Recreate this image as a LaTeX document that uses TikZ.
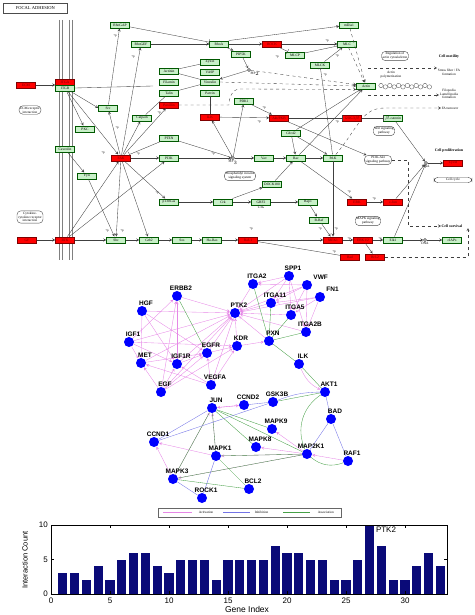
\documentclass[tikz,border=0pt]{standalone}
\usepackage{fontspec}
\setsansfont{Liberation Sans}
\newfontfamily\kegg{Liberation Serif}
\usetikzlibrary{shapes,arrows,positioning,backgrounds}
\definecolor{actc}{RGB}{230,135,230}
\definecolor{inhc}{RGB}{115,115,230}
\definecolor{assc}{RGB}{70,160,70}
\definecolor{boxg}{RGB}{200,240,200}
\definecolor{barc}{RGB}{10,10,120}
\tikzstyle{gene} = [draw=green!35!black, fill=boxg, minimum width=19pt, minimum height=6.5pt, inner sep=0pt, font=\kegg\fontsize{3.6}{4}\selectfont]
\tikzstyle{hit} = [gene, draw=red!50!black, fill=red, text=red!45!black]
\tikzstyle{pway} = [draw=black!70, rounded corners=4pt, align=center, inner sep=1.2pt, font=\kegg\fontsize{3.4}{3.8}\selectfont]
\tikzstyle{mol} = [circle, draw=black!80, inner sep=0pt, minimum size=3pt]
\tikzstyle{txt} = [font=\kegg\fontsize{3.4}{3.8}\selectfont, inner sep=0.5pt, align=center]
\tikzstyle{btxt} = [txt, font=\kegg\bfseries\fontsize{3.8}{4.2}\selectfont]
\tikzstyle{pp} = [font=\kegg\fontsize{3.2}{3.5}\selectfont, inner sep=0.3pt]
\tikzstyle{ln} = [draw=black!75, line width=0.35pt, >=stealth]
\tikzstyle{prot} = [circle, fill=blue, minimum size=10pt, inner sep=0pt]
\tikzstyle{plbl} = [font=\sffamily\bfseries\fontsize{6.5}{7}\selectfont, inner sep=0.5pt, xshift=4pt]
\tikzstyle{act} = [draw=actc, line width=0.35pt, ->, >=stealth]
\tikzstyle{inh} = [draw=inhc, line width=0.35pt]
\tikzstyle{ass} = [draw=assc, line width=0.35pt]
\tikzstyle{tick} = [font=\sffamily\fontsize{8}{9}\selectfont, inner sep=1pt]

\begin{document}
\begin{tikzpicture}[x=1pt, y=-1pt]
\useasboundingbox (0,0) rectangle (474,615);

% focal adhesion map
\node[draw=black!70, line width=0.8pt, minimum width=64pt, minimum height=10pt, anchor=north west,
      font=\kegg\fontsize{4.5}{5}\selectfont] (title) at (3,3) {FOCAL ADHESION};
\foreach \x in {59,62,69,72}
    \draw[gray, line width=0.6pt] (\x,20) -- (\x,260);

\node[hit] (ecm) at (26,85) {ECM};
\node[hit] (itga) at (65,82) {ITGA};
\node[gene] (itgb) at (65,88) {ITGB};
\node[gene] (rhogap) at (120,25) {RhoGAP};
\node[gene] (rhogef) at (141,44) {RhoGEF};
\node[gene] (rhoa) at (219,44) {RhoA};
\node[hit] (rock) at (272,44) {ROCK};
\node[gene] (mdia) at (349,25) {mDia1};
\node[gene] (mlc) at (347,44) {MLC};
\node[gene] (mlcp) at (295,55) {MLCP};
\node[gene] (mlck) at (320,65) {MLCK};
\node[gene] (pip5k) at (241,54) {PIP5K};
\node[mol, label={[txt]-60:PIP$_2$}] (pip2) at (249,70) {};
\node[gene] (zyxin) at (210,62) {Zyxin};
\node[gene] (vasp) at (210,72) {VASP};
\node[gene] (vinculin) at (210,82) {Vinculin};
\node[gene] (actinin) at (169,71) {Actinin};
\node[gene] (filamin) at (169,82) {Filamin};
\node[gene] (talin) at (169,93) {Talin};
\node[gene] (parvin) at (210,93) {Parvin};
\node[hit] (paxillin) at (169,105) {Paxillin};
\node[hit] (ilk) at (210,117) {ILK};
\node[gene] (src) at (108,108) {Src};
\node[gene] (pkc) at (85,129) {PKC};
\node[gene] (calpain) at (142,118) {Calpain};
\node[gene] (pten) at (169,138) {PTEN};
\node[gene] (caveolin) at (65,149) {Caveolin};
\node[hit] (fak) at (121,158) {FAK};
\node[gene] (pi3k) at (169,158) {PI3K};
\node[gene] (fyn) at (87,176) {Fyn};
\node[gene] (p130) at (169,202) {p130Cas};
\node[gene] (crk) at (223,202) {Crk};
\node[gene] (grf2) at (261,202) {GRF2};
\node[txt, below=0.5pt of grf2] (c3g) {C3G};
\node[gene] (rap1) at (308,202) {Rap1};
\node[gene] (braf) at (319,220) {B-Raf};
\node[hit] (erk) at (357,202) {ERK};
\node[hit] (cjun) at (393,202) {c-Jun};
\node[hit] (gf) at (27,240) {GF};
\node[hit] (rtk) at (65,240) {RTK};
\node[gene] (shc) at (116,240) {Shc};
\node[gene] (grb2) at (149,240) {Grb2};
\node[gene] (sos) at (182,240) {Sos};
\node[gene] (hras) at (212,240) {Ha-Ras};
\node[hit] (raf1) at (248,240) {Raf-1};
\node[hit] (mek1) at (333,240) {MEK1};
\node[hit] (erk12) at (363,240) {ERK1/2};
\node[gene] (elk1) at (393,240) {Elk1};
\node[mol, label={[txt]below:DNA}] (dna2) at (425,240) {};
\node[gene] (ciaps) at (452,240) {cIAPs};
\node[hit] (bad) at (350,257) {Bad};
\node[hit] (bcl2) at (375,257) {Bcl-2};
\node[mol, label={[txt]below:PIP$_3$}] (pip3) at (233,158) {};
\node[gene] (pdk1) at (244,101) {PDK1};
\node[hit] (akt) at (279,118) {Akt/PKB};
\node[hit] (gsk) at (352,118) {GSK-3$\beta$};
\node[gene] (bcat) at (393,118) {$\beta$-catenin};
\node[gene] (cdc42) at (291,133) {Cdc42};
\node[gene] (vav) at (264,158) {Vav};
\node[gene] (rac) at (296,158) {Rac};
\node[gene] (pak) at (333,158) {PAK};
\node[gene] (dock) at (272,184) {DOCK180};
\node[gene] (actin) at (366,86) {Actin};
\node[hit] (cycd) at (453,163) {CycD};
\node[mol, label={[txt]below:DNA}] (dna1) at (426,163) {};

\node[pway] (ecmbox) at (30,110) {ECM-receptor\\interaction};
\node[pway] (cytobox) at (30,217) {Cytokine-\\cytokine receptor\\interaction};
\node[pway] (regbox) at (395,56) {Regulation of\\actin cytoskeleton};
\node[pway] (wntbox) at (384,131) {Wnt signaling\\pathway};
\node[pway] (pibox) at (240,176) {Phosphatidyl inositol\\signaling system};
\node[pway] (pi3kbox) at (378,160) {PI3K-Akt\\signaling pathway};
\node[pway] (mapkbox) at (368,221) {MAPK signaling\\pathway};
\node[pway, minimum width=38pt] (cyclebox) at (453,180) {Cell cycle};

\node[btxt] (motil) at (449,57) {Cell motility};
\node[txt] (stress) at (449,72) {Stress fiber / FA\\formation};
\node[txt] (filo) at (449,94) {Filopodia\\Lamellipodia\\formation};
\node[txt] (fat) at (450,108) {FA turnover};
\node[btxt] (prolif) at (449,151) {Cell proliferation};
\node[btxt] (surv) at (452,226) {Cell survival};
\node[txt] (actpol) at (391,75) {Actin\\polymerization};
\foreach \i in {0,...,11}
    \draw[black!70, line width=0.3pt] ({381+4.4*\i},{85.5+1.4*mod(\i,2)}) circle (2.2pt);

\foreach \x/\y [count=\k] in {115/36, 133/57, 117/128, 159/113, 327/41, 277/57, 337/56,
        325/75, 264/108, 259/122, 337/122, 103/153, 138/154, 213/154, 157/193, 107/231,
        122/231, 349/192, 374/199, 251/229, 320/229, 336/229, 349/239, 380/239, 334/252}
    \node[pp] (p\k) at (\x,\y) {+p};

\coordinate (m1) at (153,86);
\coordinate (m2) at (229,105);
\coordinate (m3) at (240,89);
\coordinate (d1) at (368,68);
\coordinate (d2) at (368,95);
\coordinate (d3) at (385,108);
\coordinate (s1) at (468,257);
\coordinate (s2) at (408,160);

\draw[ln,->] (ecm) -- (ecm -| itga.west);
\draw[ln] (itgb.east) -- (m1);
\draw[ln,->] (itgb) -- (src.west);
\draw[ln,->] (itgb) -- (fak);
\draw[ln,->] (itgb) -- (pkc);
\draw[ln,->] (caveolin) -- (fyn);
\draw[ln,->] (fyn) -- (shc);
\draw[ln,->] (gf) -- (rtk);
\draw[ln,->] (rtk) -- (shc);
\draw[ln,->] (rtk) -- (fak);
\draw[ln,->] (rtk) -- (pi3k);
\draw[ln,->] (shc) -- (grb2);
\draw[ln,->] (grb2) -- (sos);
\draw[ln,->] (sos) -- (hras);
\draw[ln,->] (hras) -- (raf1);
\draw[ln,->] (raf1) -- (mek1);
\draw[ln,->] (mek1) -- (erk12);
\draw[ln,->] (erk12) -- (elk1);
\draw[ln,->] (elk1) -- (dna2);
\draw[ln,->] (dna2) -- (ciaps);
\draw[ln,->] (fak) -- (shc);
\draw[ln,->] (fak) -- (grb2);
\draw[ln,->] (fak) -- (p130);
\draw[ln,->] (fak) -- (pi3k);
\draw[ln,->] (fak) -- (src);
\draw[ln,->] (src) -- (rhogap);
\draw[ln,->] (fak) -- (rhogef);
\draw[ln,->] (fak) -- (calpain);
\draw[ln,->] (fak) -- (paxillin);
\draw[ln] (calpain) -- (talin);
\draw[ln,-|] (pten) -- (fak);
\draw[ln,-|] (pten) -- (pip3);
\draw[ln,->] (pi3k) -- (pip3);
\draw[ln,-|] (rhogap) -- (rhoa);
\draw[ln,->] (rhogef) -- (rhoa);
\draw[ln,->] (rhoa) -- (rock);
\draw[ln,->] (rhoa) -- (pip5k);
\draw[ln,->] (rhoa.north east) -- (mdia);
\draw[ln,->] (rock) -- (mlc);
\draw[ln,-|] (rock) -- (mlcp);
\draw[ln,-|] (mlcp) -- (mlc);
\draw[ln,->] (mlck) -- (mlc);
\draw[ln,dashed,->] (mlc) -- (actin);
\draw[ln,dashed,->] (mdia) -- (actin);
\draw[ln,->] (pip5k) -- (pip2);
\draw[ln,->] (pip2) -- (vinculin);
\draw[ln,dashed,->] (pip2) -- (actin);
\draw[ln] (actinin) -- (zyxin);
\draw[ln] (actinin) -- (vinculin);
\draw[ln] (talin) -- (vinculin);
\draw[ln] (parvin) -- (ilk);
\draw[ln,dashed,->] (vinculin.east) -- (actin.west);
\draw[ln,dashed,->] (paxillin.east) -- (m2) to[out=90,in=180] (m3) -- (actin.south west);
\draw[ln,->] (ilk) -- (akt);
\draw[ln,->] (pdk1) -- (akt);
\draw[ln,->] (pip3) -- (pdk1);
\draw[ln,->] (pip3) -- (ilk);
\draw[ln,->] (pip3) -- (vav);
\draw[ln,->] (vav) -- (rac);
\draw[ln,->] (rac) -- (pak);
\draw[ln,-|] (akt) -- (gsk);
\draw[ln,-|] (gsk) -- (bcat);
\draw[ln,->] (bcat) -- (dna1);
\draw[ln,->] (cjun) -- (dna1);
\draw[ln,->] (elk1) -- (dna1);
\draw[ln,->] (dna1) -- (cycd);
\draw[ln,->] (p130) -- (crk);
\draw[ln,->] (crk) -- (grf2);
\draw[ln,->] (crk) -- (dock);
\draw[ln,->] (dock) -- (rac);
\draw[ln,->] (grf2) -- (rap1);
\draw[ln,->] (rap1) -- (braf);
\draw[ln,->] (braf) -- (mek1);
\draw[ln,->] (pak) -- (mek1);
\draw[ln,->] (rac) -- (erk);
\draw[ln,->] (erk) -- (cjun);
\draw[ln] (raf1) -- (bad);
\draw[ln,->] (erk12) -- (bcl2);
\draw[ln,->] (akt) -- (pi3kbox);
\draw[ln,->] (cdc42) -- (pak);
\draw[ln,->] (cdc42) -- (rac);
\draw[ln,->] (rac) -- (actin);
\draw[ln,->] (cdc42) -- (actin);
\draw[ln,-|] (pak) -- (mlck);
\draw[ln,dashed,->] (d1) -- (d1 -| stress.west);
\draw[ln,dashed,->] (d2) -- (d2 -| filo.west);
\draw[ln,dashed,->] (pak) .. controls (360,125) and (362,108) .. (d3) -- (fat.west);
\draw[ln,dashed,->] (bcl2.east) -- (s1) -- (s1 |- surv.south);
\draw[ln,dashed,->] (pi3kbox.east) -- (s2) -- (s2 |- surv) -- (surv.west);

% interaction network
\node[prot, label={[plbl]above:ERBB2}] (erbb2) at (177,296) {};
\node[prot, label={[plbl]above:HGF}] (hgf) at (142,311) {};
\node[prot, label={[plbl]above:PTK2}] (ptk2) at (235,313) {};
\node[prot, label={[plbl]above:IGF1}] (igf1) at (129,342) {};
\node[prot, label={[plbl]above:KDR}] (kdr) at (237,346) {};
\node[prot, label={[plbl]above:EGFR}] (egfr) at (207,353) {};
\node[prot, label={[plbl]above:MET}] (met) at (141,363) {};
\node[prot, label={[plbl]above:IGF1R}] (igf1r) at (177,364) {};
\node[prot, label={[plbl]above:VEGFA}] (vegfa) at (211,385) {};
\node[prot, label={[plbl]above:EGF}] (egf) at (161,392) {};
\node[prot, label={[plbl]above:JUN}] (jun) at (212,408) {};
\node[prot, label={[plbl]above:CCND2}] (ccnd2) at (244,405) {};
\node[prot, label={[plbl]above:ITGA2}] (itga2) at (253,284) {};
\node[prot, label={[plbl]above:SPP1}] (spp1) at (289,276) {};
\node[prot, label={[plbl]70:VWF}] (vwf) at (307,285) {};
\node[prot, label={[plbl]70:FN1}] (fn1) at (320,297) {};
\node[prot, label={[plbl]above:ITGA11}] (itga11) at (271,303) {};
\node[prot, label={[plbl]above:ITGA5}] (itga5) at (291,315) {};
\node[prot, label={[plbl]above:ITGA2B}] (itga2b) at (306,332) {};
\node[prot, label={[plbl]above:PXN}] (pxn) at (269,341) {};
\node[prot, label={[plbl]above:ILK}] (ilkp) at (299,364) {};
\node[prot, label={[plbl]above:AKT1}] (akt1) at (325,392) {};
\node[prot, label={[plbl]above:GSK3B}] (gsk3b) at (273,402) {};
\node[prot, label={[plbl]above:BAD}] (badp) at (331,419) {};
\node[prot, label={[plbl]above:MAPK9}] (mapk9) at (272,429) {};
\node[prot, label={[plbl]above:MAPK8}] (mapk8) at (256,447) {};
\node[prot, label={[plbl]above:MAP2K1}] (map2k1) at (307,454) {};
\node[prot, label={[plbl]above:RAF1}] (raf1p) at (348,461) {};
\node[prot, label={[plbl]above:BCL2}] (bcl2p) at (249,489) {};
\node[prot, label={[plbl]above:CCND1}] (ccnd1) at (154,442) {};
\node[prot, label={[plbl]above:MAPK1}] (mapk1) at (216,456) {};
\node[prot, label={[plbl]above:MAPK3}] (mapk3) at (173,479) {};
\node[prot, label={[plbl]above:ROCK1}] (rock1) at (202,498) {};

\begin{scope}[on background layer]
\foreach \a/\b in {hgf/ptk2, hgf/met, hgf/egfr, hgf/igf1r, erbb2/ptk2, igf1/erbb2, egf/erbb2,
        igf1r/erbb2, igf1/igf1r, igf1/met, igf1/ptk2, igf1/kdr, met/egfr, met/ptk2, vegfa/met,
        igf1r/ptk2, igf1r/egfr, egf/egfr, egf/ptk2, egf/met, egf/igf1r, egf/kdr, egfr/ptk2,
        egfr/kdr, vegfa/kdr, vegfa/egfr, vegfa/ptk2, vegfa/igf1r, kdr/ptk2, kdr/pxn, itga2/ptk2,
        itga11/ptk2, itga5/ptk2, spp1/ptk2, vwf/ptk2, fn1/ptk2, itga2b/ptk2, pxn/ptk2,
        spp1/itga2, vwf/itga2, spp1/itga11, spp1/itga5, spp1/itga2b, vwf/itga5, vwf/itga11,
        fn1/itga5, fn1/itga11, fn1/itga2b, vwf/itga2b, jun/ccnd2, map2k1/mapk9, map2k1/mapk8,
        map2k1/mapk1, map2k1/mapk3, raf1p/map2k1, mapk1/ccnd1, mapk3/ccnd1, mapk1/jun,
        mapk3/jun, ccnd2/jun}
    \draw[act] (\a) -- (\b);
\draw[act] (ilkp) to[bend right=20] (akt1);
\foreach \a/\b in {erbb2/egfr, itga2/pxn, itga11/pxn, itga5/pxn, itga2b/pxn, pxn/ilkp,
        ilkp/akt1, akt1/gsk3b, map2k1/mapk1, map2k1/mapk3, jun/mapk1, jun/mapk3, jun/mapk8,
        jun/mapk9, mapk1/bcl2p, mapk3/bcl2p, jun/map2k1}
    \draw[ass] (\a) -- (\b);
\draw[ass] (akt1) to[bend right=40] (map2k1);
\draw[ass] (raf1p) to[bend left=30] (map2k1);
\foreach \a/\b in {gsk3b/ccnd2, gsk3b/ccnd1, badp/akt1, map2k1/badp, raf1p/badp,
        mapk1/rock1, mapk3/rock1, jun/ccnd1}
    \draw[inh] (\a) -- (\b);
\draw[inh] (akt1) to[bend right=10] (gsk3b);
\end{scope}

% legend
\node[draw=black!60, line width=0.3pt, minimum width=183pt, minimum height=9pt, inner sep=0pt] (legend) at (249.5,512.5) {};
\coordinate (la) at (163,512.5);
\coordinate (lb) at (223,512.5);
\coordinate (lc) at (283,512.5);
\draw[draw=actc, line width=0.6pt] (la) -- ++(29,0) node[txt, right=6pt] (lta) {Activation};
\draw[draw=inhc, line width=0.6pt] (lb) -- ++(27,0) node[txt, right=4pt] (ltb) {Inhibition};
\draw[draw=assc, line width=0.6pt] (lc) -- ++(27,0) node[txt, right=7pt] (ltc) {Association};

% bar chart
\foreach \v [count=\i] in {3,3,2,4,2,5,6,6,4,3,5,5,5,2,5,5,5,5,7,6,6,5,5,2,2,5,10,7,2,2,4,6,4}
    \fill[barc] ({51+11.8*\i-4.6},594) rectangle ({51+11.8*\i+4.6},{594-6.9*\v});
\draw[line width=0.4pt] (51,525) rectangle (447,594);
\foreach \t in {0,5,...,30} {
    \draw[line width=0.4pt] ({51+11.8*\t},594) -- ++(0,-3);
    \draw[line width=0.4pt] ({51+11.8*\t},525) -- ++(0,3);
    \node[tick] (xt\t) at ({51+11.8*\t},601) {\t};
}
\foreach \t in {0,5,10} {
    \draw[line width=0.4pt] (51,{594-6.9*\t}) -- ++(3,0);
    \draw[line width=0.4pt] (447,{594-6.9*\t}) -- ++(-3,0);
    \node[tick, anchor=east] (yt\t) at (49,{594-6.9*\t}) {\t};
}
\node[tick] (peak) at (386,530) {PTK2};
\node[tick, font=\sffamily\fontsize{8.5}{9}\selectfont] (xlab) at (247,609) {Gene Index};
\node[tick, rotate=90, font=\sffamily\fontsize{7.5}{8}\selectfont] (ylab) at (25,560) {Interaction Count};
\end{tikzpicture}
\end{document}
